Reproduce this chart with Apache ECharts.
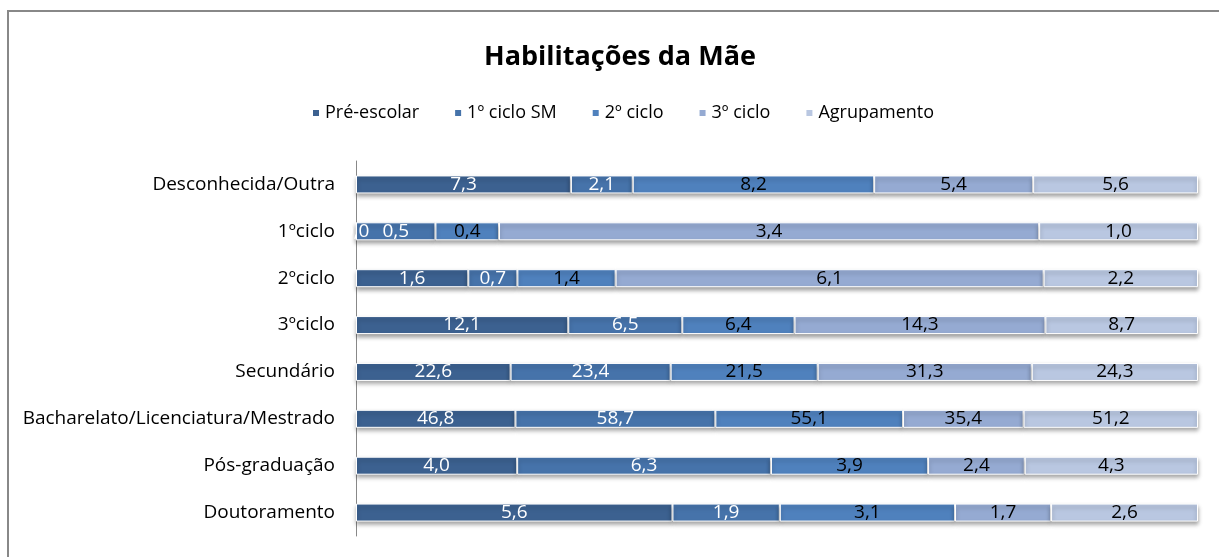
<!DOCTYPE html>
<html>
<head>
<meta charset="utf-8">
<script src="https://cdn.jsdelivr.net/npm/echarts@6/dist/echarts.min.js"></script>
<style>
html,body{margin:0;padding:0;background:#fff;}
#c{width:1219px;height:557px;}
</style>
</head>
<body>
<div id="c"></div>
<script>
const categories = ['Desconhecida/Outra','1ºciclo','2ºciclo','3ºciclo','Secundário','Bacharelato/Licenciatura/Mestrado','Pós-graduação','Doutoramento'];
const seriesNames = ['Pré-escolar','1º ciclo SM','2º ciclo','3º ciclo','Agrupamento'];
const preEscolar = [7.3, 0.0, 1.6, 12.1, 22.6, 46.8, 4.0, 5.6];
const ciclo1SM   = [2.1, 0.5, 0.7, 6.5, 23.4, 58.7, 6.3, 1.9];
const ciclo2     = [8.2, 0.4, 1.4, 6.4, 21.5, 55.1, 3.9, 3.1];
const ciclo3     = [5.4, 3.4, 6.1, 14.3, 31.3, 35.4, 2.4, 1.7];
const agrupamento= [5.6, 1.0, 2.2, 8.7, 24.3, 51.2, 4.3, 2.6];

const raw = [preEscolar, ciclo1SM, ciclo2, ciclo3, agrupamento];
const colors = ['#3C6190','#4673AA','#4F81BD','#95AAD2','#B9C7E1'];
const labelColors = ['#fff','#fff','#000','#000','#000'];
const totals = categories.map((_, i) => raw.reduce((s, a) => s + a[i], 0));
const FONT = 'Open Sans';

const chart = echarts.init(document.getElementById('c'), null, {renderer:'canvas'});
chart.setOption({
  animation: false,
  backgroundColor: '#fff',
  textStyle: {fontFamily: FONT},
  title: {
    text: 'Habilitações da Mãe', left: 479, top: 39,
    textStyle: {fontFamily: FONT, fontSize: 27, fontWeight: 'bold', color: '#000'}
  },
  legend: {
    top: 99, left: 306, icon: 'rect', itemWidth: 8, itemHeight: 8, itemGap: 34,
    textStyle: {fontFamily: FONT, fontSize: 18, color: '#000'},
    data: seriesNames
  },
  graphic: [{
    type: 'rect', shape: {x: 8, y: 11, width: 1300, height: 700},
    style: {fill: 'none', stroke: '#888', lineWidth: 2}, silent: true
  }],
  grid: {left: 356, right: 21, top: 161, bottom: 21, containLabel: false},
  xAxis: {type: 'value', min: 0, max: 100, show: false},
  yAxis: {
    type: 'category', data: categories, inverse: true,
    axisLine: {show: true, lineStyle: {color: '#888', width: 1}},
    axisTick: {show: false},
    axisLabel: {fontFamily: FONT, fontSize: 19, color: '#000', margin: 21}
  },
  series: raw.map((arr, k) => ({
    name: seriesNames[k], type: 'bar', stack: 'all', barWidth: 18,
    data: arr.map((v, i) => ({value: v / totals[i] * 100, raw: v})),
    itemStyle: {color: colors[k], borderColor: '#fff', borderWidth: 1,
      shadowColor: 'rgba(0,0,0,0.35)', shadowBlur: 4, shadowOffsetY: 3},
    label: {
      show: true, position: 'inside', overflow: 'none',
      fontFamily: FONT, fontSize: 19, color: labelColors[k],
      formatter: p => p.data.raw.toFixed(1).replace('.', ',')
    }
  }))
});
</script>
</body>
</html>
